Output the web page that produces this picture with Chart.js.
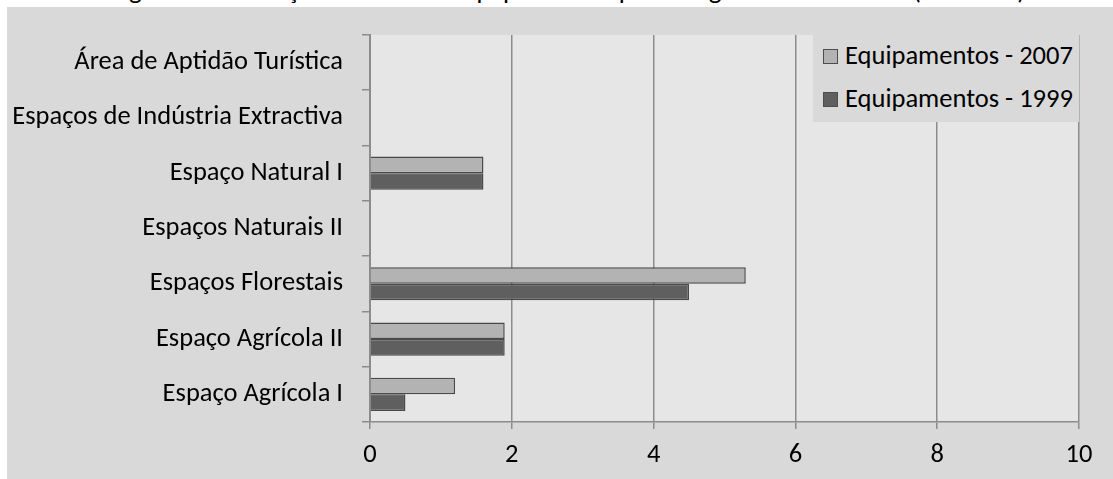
<!DOCTYPE html>
<html>
<head>
<meta charset="utf-8">
<script src="https://cdn.jsdelivr.net/npm/chart.js@4.4.1/dist/chart.umd.min.js"></script>
<style>
  html, body { margin: 0; padding: 0; background: #fff; }
  body { width: 1113px; height: 479px; position: relative; overflow: hidden; font-family: Carlito, "Open Sans", sans-serif; }
  #frame { position: absolute; left: 7px; top: 7px; right: 0; bottom: 0; background: #d9d9d9; }
  #title { position: absolute; left: 0; width: 1136px; top: -24px; text-align: center; font-size: 27px; line-height: 27px; color: #000; white-space: nowrap; }
  #chart { position: absolute; left: 0; top: 0; }
  #legend { position: absolute; left: 813px; top: 34px; width: 266px; height: 88px; background: #d9d9d9; font-size: 26.5px; color: #000; }
  .item { position: absolute; left: 10px; height: 30px; line-height: 30px; white-space: nowrap; }
  .sw { display: inline-block; width: 13px; height: 13px; border: 1px solid #4d4d4d; margin-right: 7px; vertical-align: 0px; }
</style>
</head>
<body>
<div id="frame"></div>
<div id="title">Figura 30 - Variação da Área de Equipamentos por categoria de solo rural (Hectares)</div>
<canvas id="chart" width="1113" height="479"></canvas>
<div id="legend"></div>
<script>
// categories top to bottom, values in hectares
const categories = [
  "Área de Aptidão Turística",
  "Espaços de Indústria Extractiva",
  "Espaço Natural I",
  "Espaços Naturais II",
  "Espaços Florestais",
  "Espaço Agrícola II",
  "Espaço Agrícola I",
];
const equip2007 = [0, 0, 1.6, 0, 5.3, 1.9, 1.2];
const equip1999 = [0, 0, 1.6, 0, 4.5, 1.9, 0.5];
const xTicks = [0, 2, 4, 6, 8, 10];

const FONT = "Carlito, 'Open Sans', sans-serif";
const GRID = "#8c8c8c";

const series = [
  { label: "Equipamentos - 2007", data: equip2007, fill: "#b3b3b3" },
  { label: "Equipamentos - 1999", data: equip1999, fill: "#5f5f5f" },
];

// plot background, Excel style
const plotBg = {
  id: "plotBg",
  beforeDraw(chart) {
    const { ctx, chartArea: a } = chart;
    ctx.save();
    ctx.fillStyle = "#e6e6e6";
    ctx.fillRect(a.left, a.top, a.right - a.left, a.bottom - a.top);
    ctx.restore();
  },
};

new Chart(document.getElementById("chart"), {
  type: "bar",
  data: {
    labels: categories,
    datasets: series.map((s) => ({
      label: s.label,
      data: s.data,
      backgroundColor: s.fill,
      borderColor: "#4a4a4a",
      borderWidth: 1.5,
      categoryPercentage: 0.6,
      barPercentage: 1.0,
    })),
  },
  options: {
    indexAxis: "y",
    responsive: false,
    animation: false,
    layout: { padding: { left: 0, top: 34, right: 34, bottom: 0 } },
    plugins: { legend: { display: false }, tooltip: { enabled: false } },
    scales: {
      x: {
        min: 0,
        max: 10,
        afterBuildTicks: (s) => { s.ticks = xTicks.map((v) => ({ value: v })); },
        afterFit: (s) => { s.height = 57; },
        grid: { color: GRID, lineWidth: 1.5, drawTicks: true, tickLength: 7, tickColor: GRID },
        border: { color: GRID, width: 1.5 },
        ticks: { color: "#000", font: { family: FONT, size: 26.5 }, padding: 10 },
      },
      y: {
        afterFit: (s) => { s.width = 370; },
        grid: { offset: true, drawOnChartArea: false, drawTicks: true, tickLength: 8, color: GRID, lineWidth: 1.5 },
        border: { color: GRID, width: 2 },
        ticks: { color: "#000", font: { family: FONT, size: 26.5 }, padding: 19 },
      },
    },
  },
  plugins: [plotBg],
});

const legend = document.getElementById("legend");
series.forEach((s, i) => {
  const row = document.createElement("div");
  row.className = "item";
  row.style.top = (6 + i * 43) + "px";
  row.innerHTML = `<span class="sw" style="background:${s.fill}"></span>${s.label}`;
  legend.appendChild(row);
});
</script>
</body>
</html>
